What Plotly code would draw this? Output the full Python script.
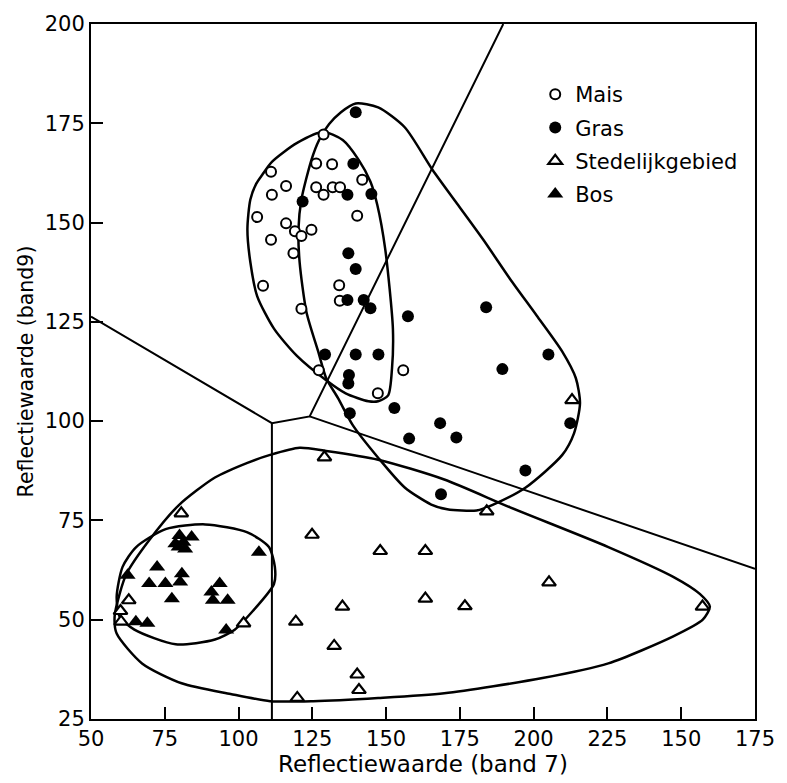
import plotly.graph_objects as go

# --- point data: reflectance values (band 7, band 9) per land-cover class ---
mais_x = [128.8, 126.3, 131.7, 141.9, 111.0, 116.1, 111.3, 126.3, 128.8, 131.9, 134.4,
          140.2, 106.3, 116.1, 119.1, 124.7, 121.3, 111.0, 118.6, 108.3, 134.1, 134.3,
          121.3, 127.2, 155.8, 147.2]
mais_y = [172.2, 164.9, 164.7, 160.8, 162.8, 159.2, 157.0, 158.9, 157.0, 158.9, 158.9,
          151.7, 151.4, 149.8, 147.8, 148.2, 146.6, 145.7, 142.3, 134.1, 134.2, 130.3,
          128.3, 112.8, 112.8, 107.0]

gras_x = [139.7, 138.9, 136.9, 145.0, 121.7, 137.2, 139.7, 136.9, 142.4, 144.7, 157.4,
          183.9, 129.3, 139.7, 147.4, 205.0, 189.4, 137.4, 137.2, 152.8, 137.7, 168.3,
          157.8, 173.8, 212.4, 197.2, 168.6]
gras_y = [177.8, 164.8, 157.0, 157.2, 155.3, 142.3, 138.3, 130.5, 130.5, 128.4, 126.4,
          128.7, 116.8, 116.8, 116.8, 116.8, 113.1, 111.6, 109.5, 103.3, 102.0, 99.5,
          95.6, 95.9, 99.5, 87.6, 81.6]

sted_x = [80.6, 62.8, 60.0, 60.2, 101.7, 119.4, 119.9, 124.9, 129.1, 135.2, 132.4,
          140.2, 140.8, 148.0, 163.3, 163.3, 176.7, 184.1, 205.2, 213.0, 257.2]
sted_y = [76.8, 54.9, 52.2, 49.5, 49.1, 49.5, 30.3, 71.4, 90.9, 53.3, 43.4,
          36.2, 32.3, 67.3, 67.3, 55.3, 53.4, 77.3, 59.4, 105.3, 53.3]

bos_x = [80.0, 84.1, 78.6, 81.3, 79.7, 81.9, 106.9, 62.4, 72.4, 80.8, 69.7, 75.2,
         80.2, 77.4, 93.6, 90.8, 91.3, 96.3, 95.8, 65.2, 69.1]
bos_y = [71.2, 70.8, 69.1, 69.5, 68.3, 67.8, 67.0, 61.2, 63.3, 61.6, 59.1, 59.1,
         59.5, 55.3, 59.1, 57.0, 54.9, 54.9, 47.4, 49.5, 49.1]

# --- hand-drawn class envelopes (closed curves) ---
gras_env_x = [127.3, 130.7, 134.7, 139.7, 147.3, 156.3, 165.7, 174.0, 183.0, 192.0, 201.0,
              209.7, 214.3, 215.7, 213.7, 209.7, 197.3, 186.3, 180.7, 170.7, 165.3, 156.3,
              147.3, 138.7, 133.7, 129.7, 127.0, 123.0, 120.7, 120.3, 121.3, 124.7, 127.3]
gras_env_y = [170.8, 174.8, 177.8, 180.0, 179.0, 174.0, 163.3, 154.8, 145.6, 135.8, 126.6,
              117.5, 110.8, 104.5, 97.0, 91.5, 83.3, 79.0, 77.5, 77.8, 79.0, 83.3,
              90.8, 99.0, 105.8, 110.8, 117.5, 127.5, 140.0, 148.3, 155.8, 165.8, 170.8]

mais_env_x = [108.0, 111.3, 119.7, 128.7, 135.3, 140.7, 144.7, 147.0, 149.7, 152.3, 152.0,
              150.7, 147.3, 144.0, 136.3, 129.7, 119.7, 112.0, 106.3, 104.0, 103.0, 104.0,
              106.0, 108.0]
mais_env_y = [162.0, 165.3, 170.0, 172.8, 170.8, 165.8, 160.3, 154.5, 143.3, 123.3, 113.3,
              106.5, 105.0, 105.0, 107.0, 110.3, 116.5, 123.3, 131.5, 140.0, 148.3, 155.8,
              159.8, 162.0]

sted_env_x = [58.0, 59.7, 62.0, 69.7, 79.7, 92.0, 103.0, 110.7, 120.7, 129.7, 147.3,
              169.7, 192.0, 225.3, 247.3, 256.3, 259.7, 257.3, 247.3, 225.3, 203.0, 169.7,
              147.3, 125.3, 110.7, 97.3, 80.7, 67.3, 58.7, 58.0]
sted_env_y = [50.8, 56.5, 61.5, 70.0, 78.8, 85.8, 89.5, 91.5, 93.3, 92.5, 90.3,
              85.3, 78.3, 68.3, 60.8, 56.5, 53.3, 50.0, 45.8, 39.0, 35.3, 31.5,
              30.3, 29.5, 29.5, 31.3, 34.0, 39.0, 46.5, 50.8]

bos_env_x = [64.7, 78.7, 92.0, 98.7, 104.0, 112.0, 112.3, 110.3, 103.0, 88.7, 75.3,
             65.3, 60.7, 58.7, 59.7, 64.7]
bos_env_y = [47.5, 43.8, 45.0, 47.5, 51.5, 59.0, 63.3, 68.3, 72.0, 74.0, 72.8,
             68.3, 63.3, 55.8, 50.8, 47.5]

# --- straight decision boundaries (segments separated by None) ---
bound_x = [50.0, 111.3, 124.1, 189.7, None, 124.1, 275.0, None, 111.3, 111.3]
bound_y = [126.3, 99.5, 101.2, 200.0, None, 101.2, 62.8, None, 99.5, 25.0]

# --- axis ticks ---
x_tickvals = [50, 75, 100, 125, 150, 175, 200, 225, 250, 275]
x_ticktext = ["50", "75", "100", "125", "150", "175", "200", "225", "150", "175"]
y_tickvals = [25, 50, 75, 100, 125, 150, 175, 200]

FONT = "DejaVu Sans"
INK = "black"

fig = go.Figure()

# boundaries and envelopes first, so the markers sit on top
fig.add_trace(go.Scatter(x=bound_x, y=bound_y, mode="lines", showlegend=False,
                         line=dict(color=INK, width=2), hoverinfo="skip"))
for ex, ey in [(gras_env_x, gras_env_y), (mais_env_x, mais_env_y),
               (sted_env_x, sted_env_y), (bos_env_x, bos_env_y)]:
    fig.add_trace(go.Scatter(x=ex, y=ey, mode="lines", showlegend=False,
                             line=dict(color=INK, width=2.5, shape="spline", smoothing=0.7),
                             hoverinfo="skip"))

fig.add_trace(go.Scatter(x=mais_x, y=mais_y, mode="markers", name="Mais", legendgroup="a",
                         marker=dict(symbol="circle", size=10, color="white",
                                     line=dict(color=INK, width=2))))
fig.add_trace(go.Scatter(x=gras_x, y=gras_y, mode="markers", name="Gras", legendgroup="b",
                         marker=dict(symbol="circle", size=12, color=INK,
                                     line=dict(color=INK, width=0))))
fig.add_trace(go.Scatter(x=sted_x, y=sted_y, mode="markers", name="Stedelijkgebied",
                         legendgroup="c",
                         marker=dict(symbol="triangle-up", size=12, color="white",
                                     line=dict(color=INK, width=2.2))))
fig.add_trace(go.Scatter(x=bos_x, y=bos_y, mode="markers", name="Bos", legendgroup="d",
                         marker=dict(symbol="triangle-up", size=14, color=INK,
                                     line=dict(color=INK, width=0))))

axis_common = dict(showline=True, linecolor=INK, linewidth=2, mirror=True,
                   ticks="inside", ticklen=12, tickwidth=2, tickcolor=INK,
                   showgrid=False, zeroline=False,
                   tickfont=dict(family=FONT, size=21, color=INK))

fig.update_xaxes(range=[50, 275], tickvals=x_tickvals, ticktext=x_ticktext,
                 title=dict(text="Reflectiewaarde (band 7)", standoff=4,
                            font=dict(family=FONT, size=23, color=INK)),
                 **axis_common)
fig.update_yaxes(range=[25, 200], tickvals=y_tickvals,
                 title=dict(text="Reflectiewaarde (band9)", standoff=6,
                            font=dict(family=FONT, size=20.5, color=INK)),
                 **axis_common)

fig.update_layout(
    width=787, height=783,
    margin=dict(l=91, r=22, t=23, b=59),
    plot_bgcolor="white", paper_bgcolor="white",
    font=dict(family=FONT, size=20, color=INK),
    legend=dict(x=0.669, y=0.928, xanchor="left", yanchor="top",
                bgcolor="rgba(0,0,0,0)", borderwidth=0, tracegroupgap=3,
                font=dict(family=FONT, size=21, color=INK)),
)

fig.write_html("out.html")
